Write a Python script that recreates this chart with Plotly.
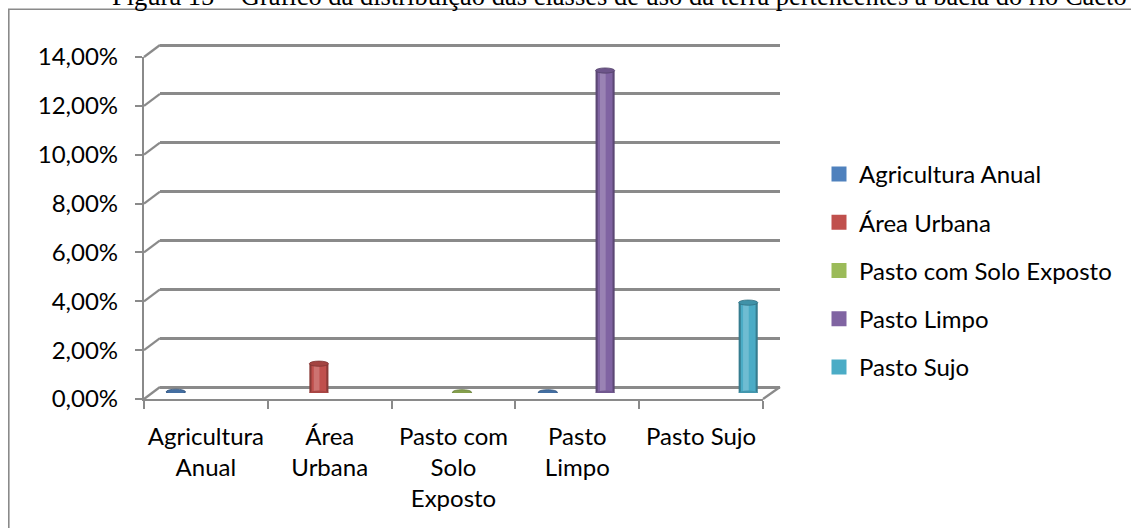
import plotly.graph_objects as go

W, H = 1131, 528

# ---------------- data ----------------
categories = ["Agricultura Anual", "Área Urbana", "Pasto com Solo Exposto", "Pasto Limpo", "Pasto Sujo"]
category_tick_labels = ["Agricultura<br>Anual", "Área<br>Urbana", "Pasto com<br>Solo<br>Exposto",
                        "Pasto<br>Limpo", "Pasto Sujo"]
series_names = ["Agricultura Anual", "Área Urbana", "Pasto com Solo Exposto", "Pasto Limpo", "Pasto Sujo"]
# percent values per category (None = no column)
agricultura_anual = [0.05, None, None, 0.03, None]
area_urbana = [None, 1.2, None, None, None]
pasto_com_solo_exposto = [None, None, 0.03, None, None]
pasto_limpo = [None, None, None, 13.2, None]
pasto_sujo = [None, None, None, None, 3.7]
y_tick_values = [0, 2, 4, 6, 8, 10, 12, 14]
y_tick_labels = ["0,00%", "2,00%", "4,00%", "6,00%", "8,00%", "10,00%", "12,00%", "14,00%"]
series_colors = ["#4F81BD", "#C0504D", "#9BBB59", "#8064A2", "#4BACC6"]
caption = "Figura 15 – Gráfico da distribuição das classes de uso da terra pertencentes à bacia do rio Cacto"

series_values = [agricultura_anual, area_urbana, pasto_com_solo_exposto, pasto_limpo, pasto_sujo]

# ---------------- geometry (pixels) ----------------
FRONT_X = (144, 763)
FRONT_Y = (399, 57)     # pixel y of 0 and 14
BACK_X = (160, 780)
BACK_Y = (387, 45)
MID_X = (152, 772)
MID_Y = (393, 51)
YMAX = 14
GRID = "#8A8A8A"
FONT = "Lato"


def px(x):
    return x / W


def py(y):
    return 1 - y / H


def mix(hex_color, other, t):
    a = [int(hex_color[i:i + 2], 16) for i in (1, 3, 5)]
    b = [int(other[i:i + 2], 16) for i in (1, 3, 5)]
    c = [round(a[k] + (b[k] - a[k]) * t) for k in range(3)]
    return "#%02x%02x%02x" % tuple(c)


n_series = len(series_names)
bargap = 0.23
bw = (1 - bargap) / n_series            # column width in category units
bw_px = bw * (MID_X[1] - MID_X[0]) / len(categories)

fig = go.Figure()

# invisible traces to carry the front category axis and the back wall
fig.add_trace(go.Scatter(x=category_tick_labels, y=[0] * len(categories), mode="markers",
                         marker=dict(opacity=0), showlegend=False, hoverinfo="skip",
                         xaxis="x", yaxis="y"))
fig.add_trace(go.Scatter(x=[0, 1], y=[0, YMAX], mode="markers",
                         marker=dict(opacity=0), showlegend=False, hoverinfo="skip",
                         xaxis="x2", yaxis="y2"))

shapes = []
for i, (name, vals, col) in enumerate(zip(series_names, series_values, series_colors)):
    xs = [c + (i - (n_series - 1) / 2) * bw for c, v in enumerate(vals) if v is not None]
    ys = [v for v in vals if v is not None]
    edge = mix(col, "#000000", 0.28)
    light = mix(col, "#FFFFFF", 0.25)
    # dark rim (full width)
    fig.add_trace(go.Bar(x=xs, y=ys, width=bw, marker=dict(color=edge, line=dict(width=0)),
                         showlegend=False, hoverinfo="skip", xaxis="x3", yaxis="y3",
                         legendgroup=name))
    # main body (legend carrier)
    fig.add_trace(go.Bar(x=xs, y=ys, width=bw * 0.62, name=name,
                         marker=dict(color=col, line=dict(width=3, color=col)),
                         xaxis="x3", yaxis="y3", legendgroup=name))
    # highlight strip
    fig.add_trace(go.Bar(x=[x - bw * 0.12 for x in xs], y=ys, width=bw * 0.3,
                         marker=dict(color=light, line=dict(width=0)), opacity=0.8,
                         showlegend=False, hoverinfo="skip", xaxis="x3", yaxis="y3",
                         legendgroup=name))
    for x, v in zip(xs, ys):
        # bottom rounded base
        shapes.append(dict(type="circle", xref="x3", yref="y3", xsizemode="pixel", ysizemode="pixel",
                           xanchor=x, yanchor=0, x0=-bw_px / 2, x1=bw_px / 2, y0=-2.6, y1=2.6,
                           fillcolor=mix(col, "#000000", 0.12), line=dict(width=0), layer="above"))
        # top cap
        shapes.append(dict(type="circle", xref="x3", yref="y3", xsizemode="pixel", ysizemode="pixel",
                           xanchor=x, yanchor=v, x0=-bw_px / 2, x1=bw_px / 2, y0=-2.6, y1=2.6,
                           fillcolor=mix(col, "#000000", 0.15),
                           line=dict(width=0.8, color=mix(col, "#000000", 0.35)), layer="above"))


# 3-D connectors between the front axis and the back wall
def y_front(v):
    return FRONT_Y[0] + (FRONT_Y[1] - FRONT_Y[0]) * v / YMAX


def y_back(v):
    return BACK_Y[0] + (BACK_Y[1] - BACK_Y[0]) * v / YMAX


for v in y_tick_values:
    shapes.append(dict(type="line", xref="paper", yref="paper",
                       x0=px(FRONT_X[0]), y0=py(y_front(v)), x1=px(BACK_X[0]), y1=py(y_back(v)),
                       line=dict(color=GRID, width=2.2), layer="below"))
# floor right edge
shapes.append(dict(type="line", xref="paper", yref="paper",
                   x0=px(FRONT_X[1]), y0=py(y_front(0)), x1=px(BACK_X[1]), y1=py(y_back(0)),
                   line=dict(color=GRID, width=2.2), layer="below"))
# chart area border
shapes.append(dict(type="rect", xref="paper", yref="paper",
                   x0=px(8.8), y0=py(9.3), x1=1.02, y1=-0.02,
                   line=dict(color="#8A8A8A", width=1.6), fillcolor="rgba(0,0,0,0)", layer="below"))

# back wall axis: pad the range so the edge gridlines are kept
PAD = 0.2
unit_back = (BACK_Y[0] - BACK_Y[1]) / YMAX
back_dom = [py(BACK_Y[0] + PAD * unit_back), py(BACK_Y[1] - PAD * unit_back)]

axis_font = dict(family=FONT, size=24, color="#000000")

fig.update_layout(
    width=W, height=H,
    margin=dict(l=0, r=0, t=0, b=0, autoexpand=False),
    paper_bgcolor="white", plot_bgcolor="rgba(0,0,0,0)",
    barmode="overlay",
    showlegend=True,
    shapes=shapes,
    xaxis=dict(domain=[px(FRONT_X[0]), px(FRONT_X[1])], type="category",
               categoryorder="array", categoryarray=category_tick_labels,
               range=[-0.5, len(categories) - 0.5], tickson="boundaries", tickangle=0,
               ticks="outside", ticklen=8, tickwidth=2, tickcolor=GRID,
               showline=True, linecolor=GRID, linewidth=2.2, showgrid=False, zeroline=False,
               tickfont=axis_font, anchor="y", fixedrange=True, ticklabelstandoff=15),
    yaxis=dict(domain=[py(FRONT_Y[0]), py(FRONT_Y[1])], range=[0, YMAX],
               tickmode="array", tickvals=y_tick_values, ticktext=y_tick_labels,
               ticks="outside", ticklen=7, tickwidth=2, tickcolor=GRID,
               showline=True, linecolor=GRID, linewidth=2.2, showgrid=False, zeroline=False,
               tickfont=axis_font, anchor="x", fixedrange=True, ticklabelstandoff=12),
    xaxis2=dict(domain=[px(BACK_X[0]), px(BACK_X[1])], range=[0, 1], visible=False, anchor="y2"),
    yaxis2=dict(domain=back_dom, range=[-PAD, YMAX + PAD],
                tickmode="array", tickvals=y_tick_values, showgrid=True, gridcolor=GRID,
                gridwidth=2.6, showticklabels=False, ticks="", zeroline=False, showline=False,
                anchor="x2"),
    xaxis3=dict(domain=[px(MID_X[0]), px(MID_X[1])], range=[-0.5, len(categories) - 0.5],
                visible=False, anchor="y3"),
    yaxis3=dict(domain=[py(MID_Y[0]), py(MID_Y[1])], range=[0, YMAX], visible=False, anchor="x3"),
    legend=dict(x=px(819), y=py(152), xanchor="left", yanchor="top",
                font=dict(family=FONT, size=24, color="#000000"),
                tracegroupgap=14, bgcolor="rgba(0,0,0,0)", traceorder="grouped"),
    annotations=[dict(text=caption, xref="paper", yref="paper", x=px(110), y=py(13),
                      xanchor="left", yanchor="bottom", showarrow=False,
                      font=dict(family="Liberation Serif", size=26.5, color="#000000"))],
)

fig.write_html("out.html", config={"displayModeBar": False},
               post_script="document.body.style.margin='0px';")
